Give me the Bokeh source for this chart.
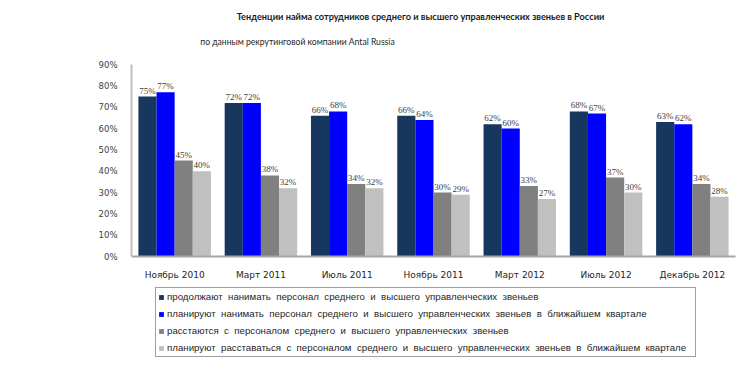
from bokeh.plotting import figure
from bokeh.models import FactorRange, ColumnDataSource, Legend, LegendItem, Label, FixedTicker, LabelSet, CustomJSTickFormatter, Range1d
from bokeh.layouts import column
from bokeh.transform import dodge
from bokeh.embed import file_html
from bokeh.resources import INLINE

categories = ["Ноябрь 2010", "Март 2011", "Июль 2011", "Ноябрь 2011", "Март 2012", "Июль 2012", "Декабрь 2012"]
s1 = [75, 72, 66, 66, 62, 68, 63]
s2 = [77, 72, 68, 64, 60, 67, 62]
s3 = [45, 38, 34, 30, 33, 37, 34]
s4 = [40, 32, 32, 29, 27, 30, 28]
series_names = [
    "продолжают  нанимать  персонал  среднего  и  высшего  управленческих  звеньев",
    "планируют  нанимать  персонал  среднего  и  высшего  управленческих  звеньев  в  ближайшем  квартале",
    "расстаются  с  персоналом  среднего  и  высшего  управленческих  звеньев",
    "планируют  расставаться  с  персоналом  среднего  и  высшего  управленческих  звеньев  в  ближайшем  квартале",
]
colors = ["#17375E", "#0000FF", "#808080", "#C0C0C0"]
yticks = [0, 10, 20, 30, 40, 50, 60, 70, 80, 90]
title_text = "Тенденции найма сотрудников среднего и высшего управленческих звеньев в России"
subtitle_text = "по данным рекрутинговой компании Antal Russia"

W = 744
BL, BR = 131, 9

src = ColumnDataSource(dict(cat=categories, s1=s1, s2=s2, s3=s3, s4=s4,
                            l1=[f"{v}%" for v in s1], l2=[f"{v}%" for v in s2],
                            l3=[f"{v}%" for v in s3], l4=[f"{v}%" for v in s4]))
offsets = [-0.315, -0.105, 0.105, 0.315]
keys = ["s1", "s2", "s3", "s4"]
lkeys = ["l1", "l2", "l3", "l4"]
xr = FactorRange(factors=categories, range_padding=0)

# ---- title strip ----
pt = figure(width=W, height=56, x_range=(BL, W - BR), y_range=(56, 0), output_backend="svg",
            toolbar_location=None, x_axis_type=None, y_axis_type=None,
            min_border_left=BL, min_border_right=BR, min_border_top=0, min_border_bottom=0)
pt.outline_line_color = None
pt.grid.visible = False
pt.add_layout(Label(x=420, y=16, text=title_text, text_align="center", text_baseline="middle",
                    text_font="Lato", text_font_style="bold",
                    text_font_size="9.2px", text_color="#1A1A1A"))
pt.add_layout(Label(x=297, y=41, text=subtitle_text, text_align="center", text_baseline="middle",
                    text_font="Lato", text_font_size="8.6px", text_color="#262626"))

# ---- main chart ----
p = figure(x_range=xr, y_range=(0, 90),
           width=W, height=226, output_backend="svg", toolbar_location=None,
           min_border_left=BL, min_border_right=BR, min_border_top=8, min_border_bottom=21)
p.outline_line_color = None
p.xgrid.grid_line_color = None
p.ygrid.grid_line_color = None

for k, lk, off, c in zip(keys, lkeys, offsets, colors):
    p.vbar(x=dodge("cat", off, range=xr), top=k, width=0.21, source=src,
           fill_color=c, line_color=None)
    p.add_layout(LabelSet(x=dodge("cat", off, range=xr), y=k, text=lk, source=src,
                          text_align="center", text_baseline="bottom", y_offset=1,
                          text_font_size="9px", text_color="#404040", text_font="DejaVu Sans"))

p.yaxis.ticker = FixedTicker(ticks=yticks)
p.yaxis.formatter = CustomJSTickFormatter(code="return tick + '%';")
p.yaxis.major_label_text_font_size = "8.5px"
p.yaxis.major_label_text_color = "#404040"
p.yaxis.major_label_text_font = "DejaVu Sans"
p.yaxis.major_label_standoff = 8
p.yaxis.axis_line_color = "#BFBFBF"
p.yaxis.axis_line_width = 2
p.yaxis.major_tick_line_color = None
p.yaxis.minor_tick_line_color = None
p.xaxis.axis_line_color = "#A6A6A6"
p.xaxis.axis_line_width = 2
p.xaxis.major_tick_line_color = None
p.xaxis.minor_tick_line_color = None
p.xaxis.major_label_text_font_size = "9px"
p.xaxis.major_label_text_color = "#262626"
p.xaxis.major_label_text_font = "DejaVu Sans"
p.xaxis.major_label_standoff = 7

# ---- legend strip (series renderers kept out of view, used only for legend swatches) ----
pl = figure(width=W, height=79, x_range=xr, y_range=Range1d(1000, 1001), output_backend="svg",
            toolbar_location=None, x_axis_type=None, y_axis_type=None,
            min_border_left=BL, min_border_right=BR, min_border_top=0, min_border_bottom=0)
pl.outline_line_color = None
pl.grid.visible = False
items = []
for k, off, c, name in zip(keys, offsets, colors, series_names):
    r = pl.vbar(x=dodge("cat", off, range=xr), top=k, width=0.21, source=src,
                fill_color=c, line_color=None)
    items.append(LegendItem(label=name, renderers=[r]))
legend = Legend(items=items, location=(24, 4), orientation="vertical",
                glyph_width=6, glyph_height=6, label_height=13, spacing=4, padding=2,
                label_standoff=3, label_width=526, label_text_font_size="9.7px",
                label_text_color="#262626", label_text_font="Liberation Sans",
                border_line_color="#404040", border_line_width=1, margin=0)
pl.add_layout(legend, "center")

layout = column(pt, p, pl, spacing=0)
open("out.html", "w").write(file_html(layout, INLINE))
